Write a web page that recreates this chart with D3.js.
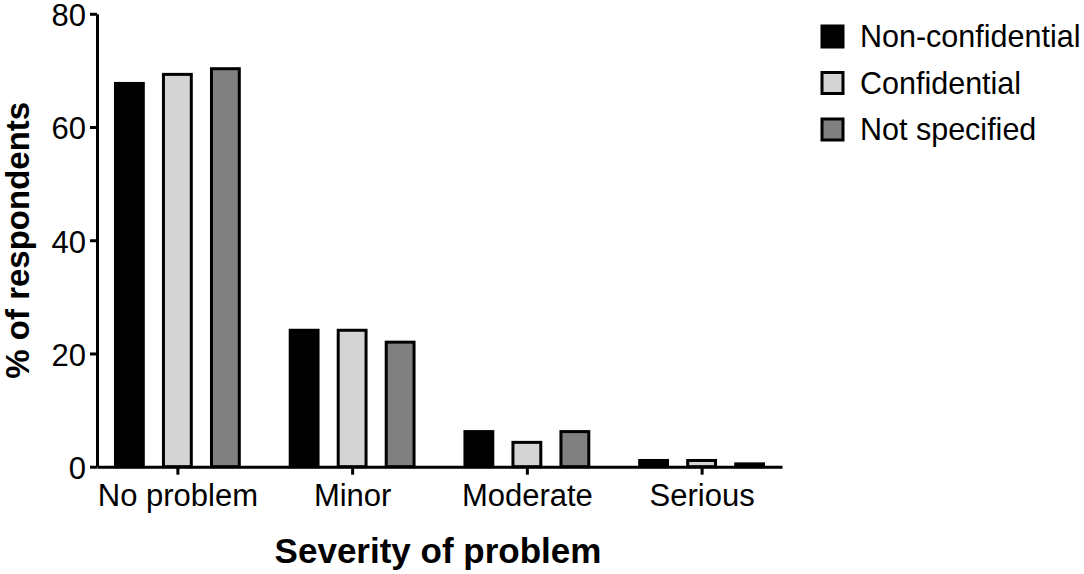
<!DOCTYPE html>
<html>
<head>
<meta charset="utf-8">
<script src="https://cdn.jsdelivr.net/npm/d3@7"></script>
<style>
    body { margin: 0; background: #fff; }
    svg { display: block; font-family: "Liberation Sans", Arial, Helvetica, sans-serif; }
</style>
</head>
<body>
<div id="chart"></div>
<script>
const categories = ["No problem", "Minor", "Moderate", "Serious"];
const series = ["Non-confidential", "Confidential", "Not specified"];
const nonConfidential = [67.7, 24.1, 6.2, 1.1];
const confidential = [69.3, 24.1, 4.3, 1.1];
const notSpecified = [70.3, 22.0, 6.2, 0.5];
const yTicks = [0, 20, 40, 60, 80];
const colors = ["#000000", "#d4d4d4", "#808080"];

const values = [nonConfidential, confidential, notSpecified];

const width = 1084, height = 574;
const plotLeft = 97, plotRight = 782, plotTop = 13.8, plotBottom = 466.7;

const svg = d3.select("#chart")
    .append("svg")
    .attr("width", width)
    .attr("height", height);

const x = d3.scalePoint()
    .domain(categories)
    .range([plotLeft, plotRight])
    .padding(0.46);

const inner = d3.scaleBand()
    .domain(series)
    .range([-72, 72])
    .paddingInner(0.42)
    .paddingOuter(0.21);

const y = d3.scaleLinear()
    .domain([0, 80])
    .range([plotBottom, plotTop]);

// bars
const groups = svg.append("g")
    .selectAll("g")
    .data(categories)
    .enter()
    .append("g")
    .attr("transform", d => `translate(${x(d)},0)`);

groups.selectAll("rect")
    .data((d, ci) => series.map((s, si) => ({ s, si, v: values[si][ci] })))
    .enter()
    .append("rect")
    .attr("x", d => inner(d.s))
    .attr("width", inner.bandwidth())
    .attr("y", d => y(d.v))
    .attr("height", d => y(0) - y(d.v))
    .style("fill", d => colors[d.si])
    .style("stroke", "#000")
    .style("stroke-width", "3px");

// y axis
const yAxis = svg.append("g")
    .attr("transform", `translate(${plotLeft},0)`)
    .call(d3.axisLeft(y).tickValues(yTicks).tickSize(7).tickSizeOuter(0).tickPadding(4));
yAxis.selectAll(".tick text").attr("dy", "0.38em");

// x axis
const xAxis = svg.append("g")
    .attr("transform", `translate(0,${plotBottom})`)
    .call(d3.axisBottom(x).tickSize(8).tickSizeOuter(0).tickPadding(9));

[yAxis, xAxis].forEach(a => {
    a.select(".domain").style("stroke", "#000").style("stroke-width", "3px");
    a.selectAll(".tick line").style("stroke", "#000").style("stroke-width", "3px");
    a.selectAll(".tick text")
        .style("font-family", "'Liberation Sans', Arial, Helvetica, sans-serif")
        .style("font-size", "31px")
        .style("fill", "#000");
});

// axis titles
svg.append("text")
    .attr("transform", `translate(29,${(plotTop + plotBottom) / 2}) rotate(-90)`)
    .style("text-anchor", "middle")
    .style("font-size", "33px")
    .style("font-weight", "bold")
    .text("% of respondents");

svg.append("text")
    .attr("x", 438)
    .attr("y", 563)
    .style("text-anchor", "middle")
    .style("font-size", "35px")
    .style("font-weight", "bold")
    .text("Severity of problem");

// legend
const legend = svg.append("g")
    .attr("transform", "translate(822,26)")
    .selectAll("g")
    .data(series)
    .enter()
    .append("g")
    .attr("transform", (d, i) => `translate(0,${i * 46.5})`);

legend.append("rect")
    .attr("width", 21)
    .attr("height", 21)
    .style("fill", (d, i) => colors[i])
    .style("stroke", "#000")
    .style("stroke-width", "3px");

legend.append("text")
    .attr("x", 38)
    .attr("y", 21)
    .style("font-size", "30.5px")
    .text(d => d);
</script>
</body>
</html>
